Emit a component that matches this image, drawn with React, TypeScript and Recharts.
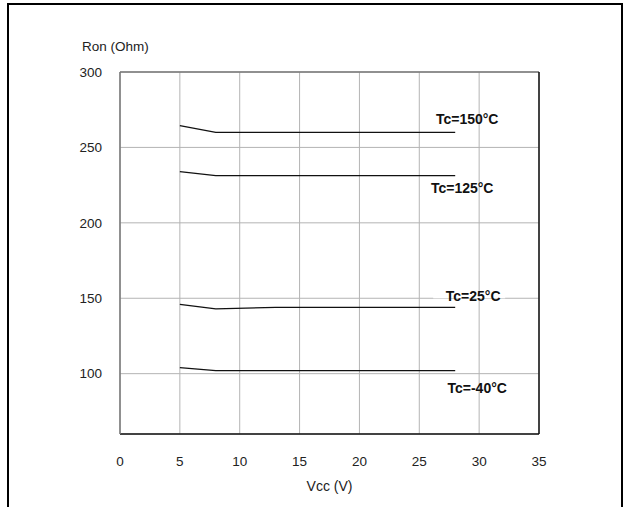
import React from 'react';
import { LineChart, Line, XAxis, YAxis, CartesianGrid, ReferenceLine } from 'recharts';

const VCC = [5, 8, 13, 28];
const RON_150 = [264.5, 260, 260, 260];
const RON_125 = [234, 231.3, 231.3, 231.3];
const RON_25 = [146, 143, 144, 144];
const RON_M40 = [104, 102, 102, 102];

const X_TICKS = [0, 5, 10, 15, 20, 25, 30, 35];
const Y_TICKS = [100, 150, 200, 250, 300];

const SERIES = [
  { key: 't150', name: 'Tc=150°C', values: RON_150 },
  { key: 't125', name: 'Tc=125°C', values: RON_125 },
  { key: 't25', name: 'Tc=25°C', values: RON_25 },
  { key: 'tm40', name: 'Tc=-40°C', values: RON_M40 },
];

// label placement relative to the last point of each curve
const LABEL_POS: Record<string, { dx: number; dy: number; cut?: boolean }> = {
  t150: { dx: 12, dy: -13 },
  t125: { dx: 7, dy: 12 },
  t25: { dx: 18, dy: -11, cut: true },
  tm40: { dx: 22, dy: 17 },
};

const data = VCC.map((v, i) => {
  const row: Record<string, number> = { vcc: v };
  SERIES.forEach(s => { row[s.key] = s.values[i]; });
  return row;
});

const FONT = '"Liberation Sans", Arial, sans-serif';

const makeLabel = (key: string, name: string) => (props: any) => {
  const { x, y, index } = props;
  if (index !== VCC.length - 1) return null;
  const p = LABEL_POS[key];
  const cx = x + p.dx;
  const cy = y + p.dy;
  return (
    <g key={key}>
      {p.cut ? <rect x={cx - 40} y={cy - 2} width={72} height={4} fill="#fff" /> : null}
      <text x={cx} y={cy} textAnchor="middle" dominantBaseline="central" fontFamily={FONT}
        fontSize={14} fontWeight="bold" fill="#111">
        {name}
      </text>
    </g>
  );
};

export default function App() {
  return (
    <div style={{ position: 'absolute', left: 0, top: 0, width: 623, height: 507, background: '#fff' }}>
      <div style={{
        position: 'absolute', left: 7, top: 3, width: 612, height: 510,
        borderTop: '2.5px solid #000', borderLeft: '2.5px solid #000', borderRight: '2.5px solid #000',
      }} />
      <div style={{ position: 'absolute', left: 0, top: 0 }}>
        <LineChart width={623} height={507} data={data}
          margin={{ top: 72, right: 84, bottom: 43, left: 60 }}
          style={{ fontFamily: FONT }}>
          <CartesianGrid stroke="#b4b4b4" strokeWidth={1} />
          <XAxis type="number" dataKey="vcc" domain={[0, 35]} ticks={X_TICKS} height={30}
            tickLine={false} tickSize={0} tickMargin={22} axisLine={{ stroke: '#111', strokeWidth: 1.5 }}
            tick={{ fill: '#222', fontSize: 13.5 }}
            label={{ value: 'Vcc (V)', position: 'bottom', offset: 17, fill: '#222', fontSize: 14 }} />
          <YAxis type="number" domain={[60, 300]} ticks={Y_TICKS} width={60}
            tickLine={false} tickSize={0} tickMargin={18} axisLine={{ stroke: '#777', strokeWidth: 1.5 }}
            tick={{ fill: '#222', fontSize: 13.5 }}
            label={{
              content: (p: any) => (
                <text x={p.viewBox.x + 22} y={p.viewBox.y - 21} fontFamily={FONT} fontSize={13.5} fill="#222">
                  Ron (Ohm)
                </text>
              ),
            }} />
          <ReferenceLine y={300} stroke="#777" strokeWidth={1.5} />
          <ReferenceLine x={35} stroke="#111" strokeWidth={1.5} />
          {SERIES.map(s => (
            <Line key={s.key} type="linear" dataKey={s.key} stroke="#111" strokeWidth={1.3}
              dot={false} activeDot={false} isAnimationActive={false}
              label={makeLabel(s.key, s.name)} />
          ))}
        </LineChart>
      </div>
    </div>
  );
}
